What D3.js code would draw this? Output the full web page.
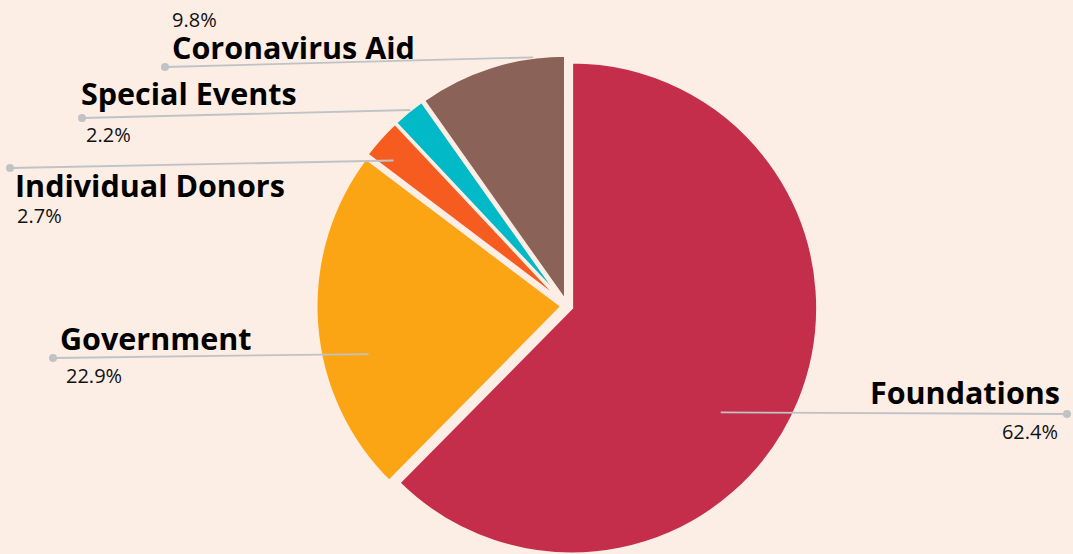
<!DOCTYPE html>
<html>
<head>
<meta charset="utf-8">
<script src="https://cdn.jsdelivr.net/npm/d3@7/dist/d3.min.js"></script>
<style>
  html, body { margin: 0; padding: 0; background: #fcede5; }
  svg { display: block; }
</style>
</head>
<body>
<svg id="chart" width="1073" height="554"></svg>
<script>
// ---- data ----
const categories = ["Foundations", "Government", "Individual Donors", "Special Events", "Coronavirus Aid"];
const values = [62.4, 22.9, 2.7, 2.2, 9.8];
const valueLabels = ["62.4%", "22.9%", "2.7%", "2.2%", "9.8%"];
const colors = ["#c42e4b", "#fca514", "#f65b1f", "#02b9c7", "#8b6258"];

// ---- label layout (connector anchor on slice + label dot) ----
const labelLayout = [
  { angleShift: 12.7, rFrac: 0.74, dotX: 1067, dotY: 414, side: "right", nameDy: -10, pctDy: 25, pctDx: -9, nameDx: -7 },
  { angleShift: -9.7, rFrac: 0.81, dotX: 53,   dotY: 358, side: "left",  nameDy: -8,  pctDy: 25, pctDx: 13, nameDx: 7 },
  { angleShift: -2.0, rFrac: 0.90, dotX: 10,   dotY: 168, side: "left",  nameDy: 29,  pctDy: 55, pctDx: 7,  nameDx: 5 },
  { angleShift: 0.6,  rFrac: 1.00, dotX: 82,   dotY: 118, side: "left",  nameDy: -13, pctDy: 24, pctDx: 4,  nameDx: -1 },
  { angleShift: 10.1, rFrac: 1.00, dotX: 165,  dotY: 67,  side: "left",  nameDy: -8,  pctDy: -40, pctDx: 7, nameDx: 7 }
];

const W = 1073, H = 554;
const cx = 567, cy = 306, radius = 246, explode = 5;

const svg = d3.select("#chart");
svg.append("rect").attr("width", W).attr("height", H).attr("fill", "#fcede5");

const pie = d3.pie().sort(null).value(d => d).startAngle(0).endAngle(2 * Math.PI);
const arcs = pie(values);
const arc = d3.arc().innerRadius(0).outerRadius(radius);

const g = svg.append("g").attr("transform", `translate(${cx},${cy})`);

g.selectAll("path.slice")
  .data(arcs)
  .join("path")
  .attr("class", "slice")
  .attr("d", arc)
  .attr("fill", (d, i) => colors[i])
  .attr("stroke", "#fcede5")
  .attr("stroke-width", 3)
  .attr("stroke-linejoin", "miter")
  .attr("transform", d => {
    const m = (d.startAngle + d.endAngle) / 2;
    return `translate(${explode * Math.sin(m)},${-explode * Math.cos(m)})`;
  });

// connectors & labels
const lab = svg.append("g");
arcs.forEach((d, i) => {
  const L = labelLayout[i];
  const m = (d.startAngle + d.endAngle) / 2 + L.angleShift * Math.PI / 180;
  const mm = (d.startAngle + d.endAngle) / 2;
  const ox = cx + explode * Math.sin(mm), oy = cy - explode * Math.cos(mm);
  const ax = ox + L.rFrac * radius * Math.sin(m);
  const ay = oy - L.rFrac * radius * Math.cos(m);

  lab.append("line")
    .attr("x1", ax).attr("y1", ay)
    .attr("x2", L.dotX).attr("y2", L.dotY)
    .attr("stroke", "#bfc3c6").attr("stroke-width", 1.8);
  lab.append("circle")
    .attr("cx", L.dotX).attr("cy", L.dotY).attr("r", 4)
    .attr("fill", "#bfc3c6");

  const anchor = L.side === "right" ? "end" : "start";
  lab.append("text")
    .attr("x", L.dotX + L.nameDx)
    .attr("y", L.dotY + L.nameDy)
    .attr("text-anchor", anchor)
    .attr("font-family", "'Open Sans', sans-serif")
    .attr("font-weight", 700)
    .attr("font-size", 30.5)
    .attr("fill", "#000")
    .text(categories[i]);
  lab.append("text")
    .attr("x", L.dotX + L.pctDx)
    .attr("y", L.dotY + L.pctDy)
    .attr("text-anchor", anchor)
    .attr("font-family", "'Open Sans', sans-serif")
    .attr("font-weight", 400)
    .attr("font-size", 20)
    .attr("fill", "#111")
    .text(valueLabels[i]);
});
</script>
</body>
</html>
